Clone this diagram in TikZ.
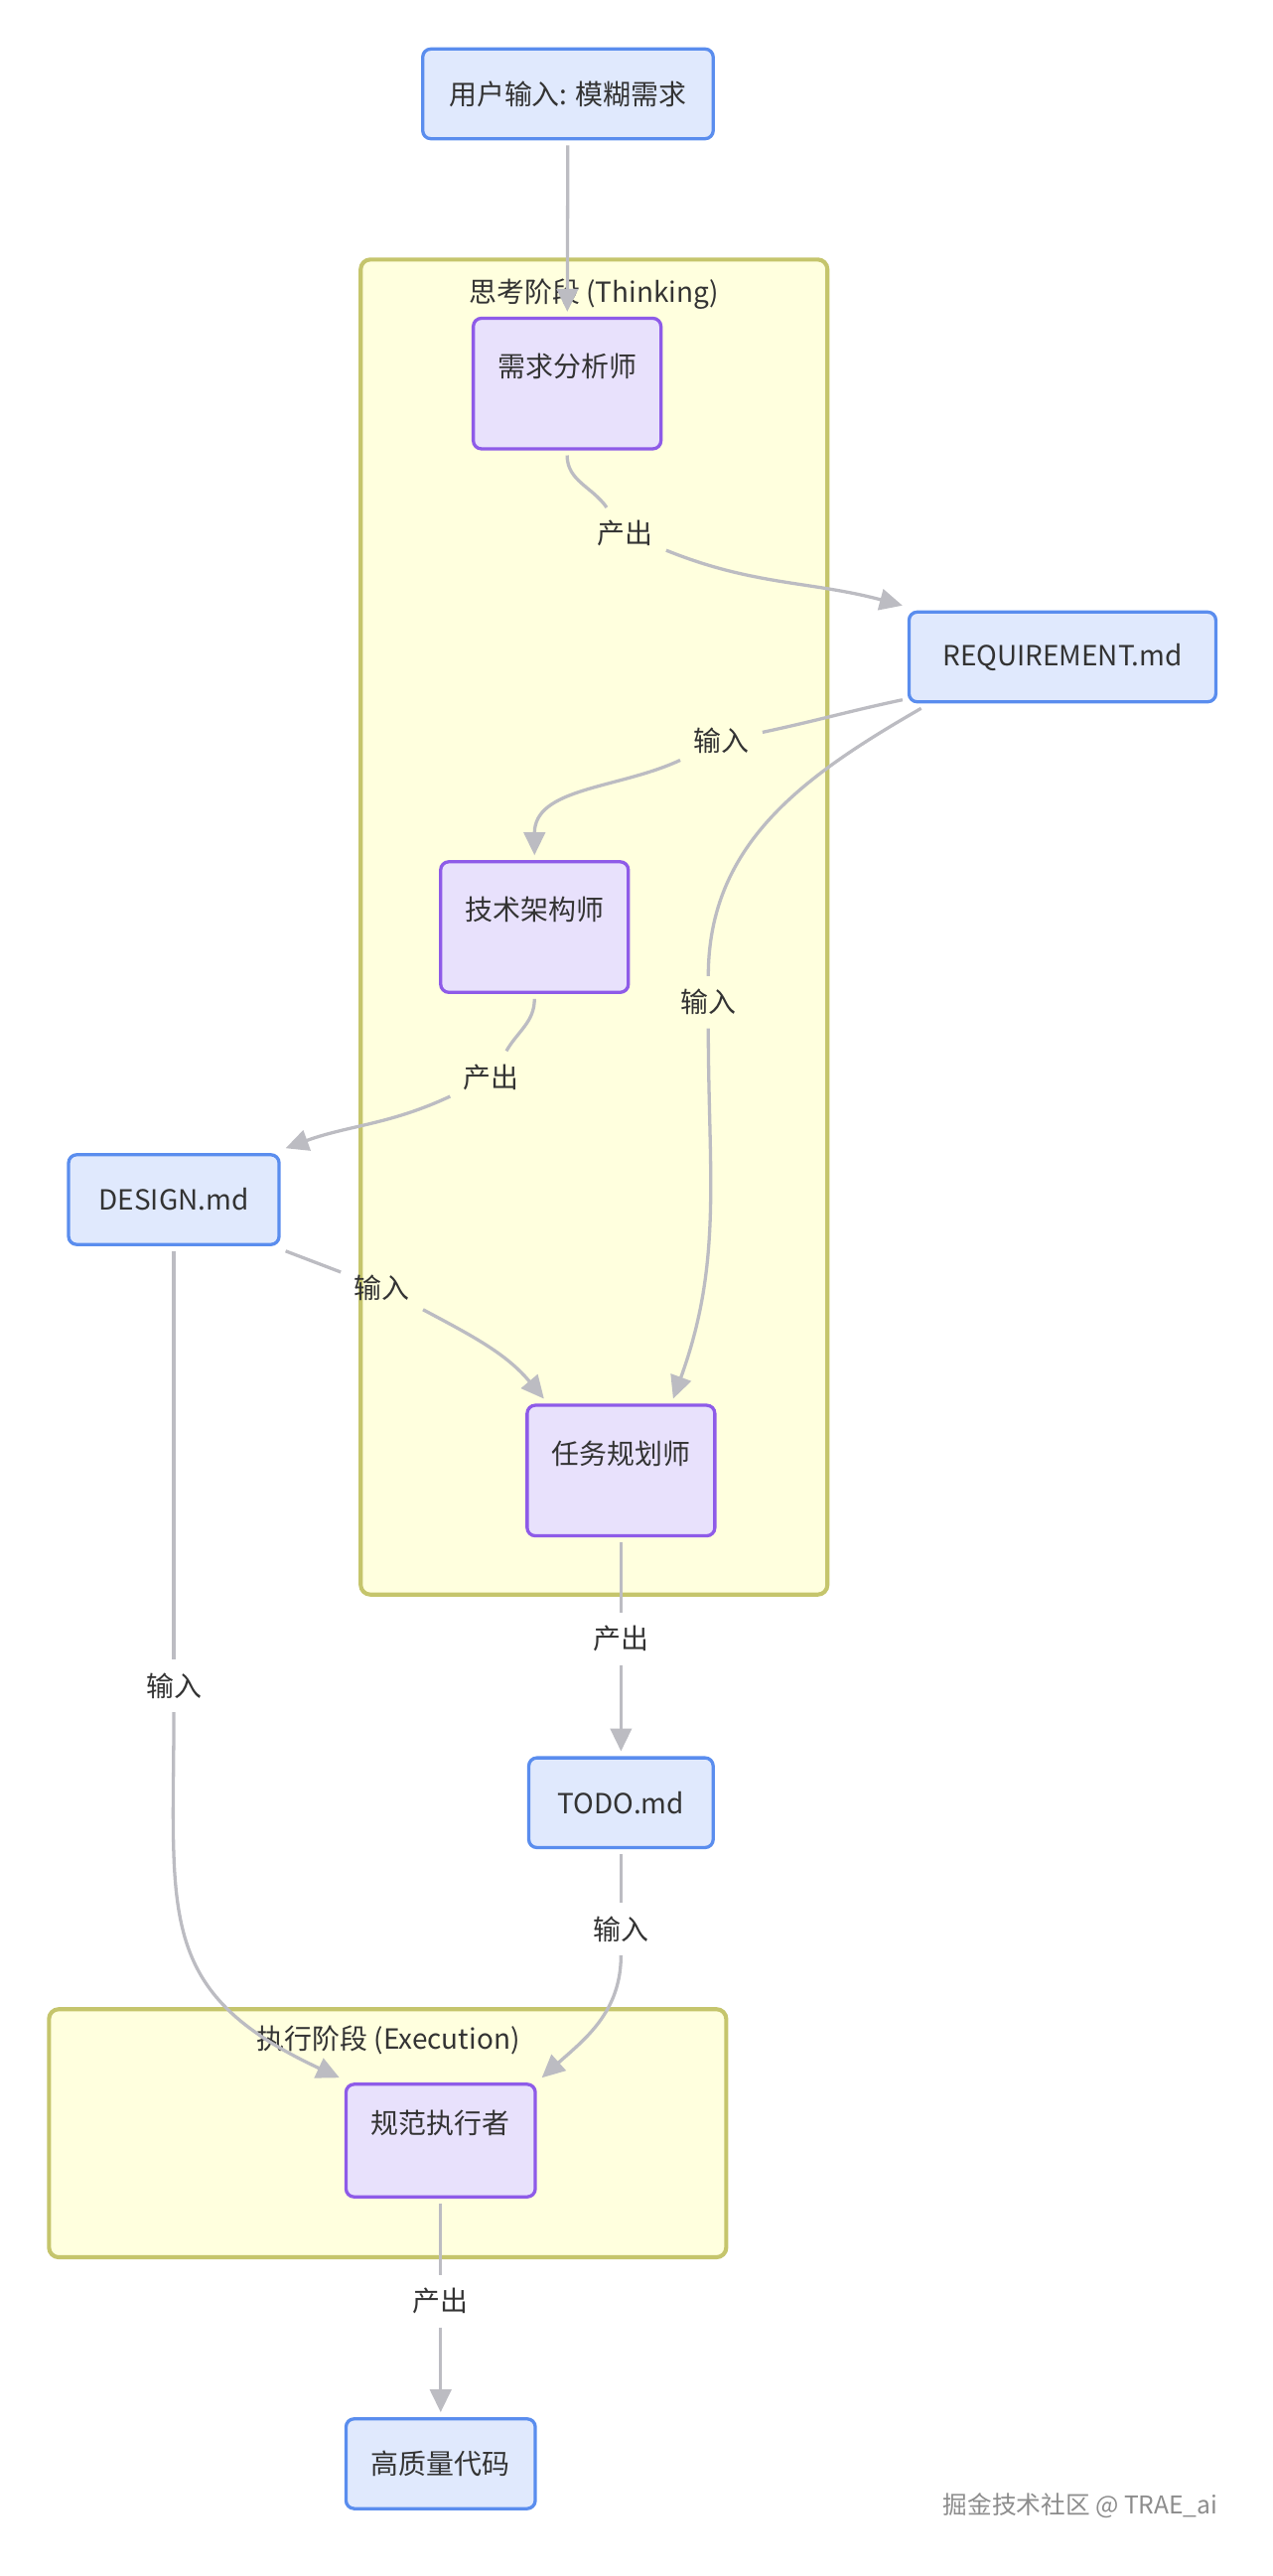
\documentclass[tikz,border=0pt]{standalone}
\usepackage{fontspec}
\setmainfont{Noto Sans CJK SC}
\usetikzlibrary{arrows.meta}
\definecolor{filebg}{HTML}{E0E9FD}
\definecolor{fileline}{HTML}{5A8DEE}
\definecolor{rolebg}{HTML}{E8E1FC}
\definecolor{roleline}{HTML}{8E5BE8}
\definecolor{phasebg}{HTML}{FFFFDE}
\definecolor{phaseline}{HTML}{C5C56C}
\definecolor{edgec}{HTML}{BCBCC2}
\definecolor{textc}{HTML}{333333}
\begin{document}
\begin{tikzpicture}[x=1pt,y=1pt,
  file/.style={draw=fileline,fill=filebg,line width=2pt,rounded corners=5pt,minimum height=55pt,inner sep=0pt,outer sep=4pt,text=textc},
  role/.style={draw=roleline,fill=rolebg,line width=2pt,rounded corners=5pt,minimum width=115pt,minimum height=80pt,inner sep=0pt,outer sep=4pt,text height=14pt,text depth=22pt,text=textc},
  phase/.style={draw=phaseline,fill=phasebg,line width=2.5pt,rounded corners=6pt},
  lbl/.style={inner sep=8pt,text=textc},
  flow/.style={draw=edgec,line width=2pt},
  tip/.style={-{Triangle[length=14pt,width=13pt]}}]
\useasboundingbox (0,0) rectangle (780,-1578.3);
\fontsize{17}{20}\selectfont

% clusters
\draw[phase] (221,-159) rectangle (507,-977);
\node[text=textc] (think) at (364,-180) {思考阶段 (Thinking)};
\draw[phase] (30,-1231) rectangle (445,-1383);
\node[text=textc] (exe) at (238,-1250) {执行阶段 (Execution)};

% boxes
\node[file,minimum width=178pt] (start) at (348,-57.5) {用户输入: 模糊需求};
\node[role] (ana) at (347.5,-235) {需求分析师};
\node[file,minimum width=188pt] (req) at (651,-402.5) {REQUIREMENT.md};
\node[role] (arch) at (327.5,-568) {技术架构师};
\node[file,minimum width=129pt] (design) at (106.5,-735) {DESIGN.md};
\node[role] (plan) at (380.5,-901) {任务规划师};
\node[file,minimum width=113pt] (todo) at (380.5,-1104.5) {TODO.md};
\node[role,minimum width=116pt,minimum height=69pt] (exec) at (270,-1311.5) {规范执行者};
\node[file,minimum width=116pt] (code) at (270,-1509.5) {高质量代码};

% edge labels
\node[lbl] (l1) at (383,-327) {产出};
\node[lbl] (l2) at (442,-454) {输入};
\node[lbl] (l3) at (434,-614) {输入};
\node[lbl] (l4) at (301,-660) {产出};
\node[lbl] (l5) at (234,-789) {输入};
\node[lbl] (l6) at (380.5,-1004) {产出};
\node[lbl] (l7) at (380.5,-1182) {输入};
\node[lbl] (l8) at (106.5,-1033) {输入};
\node[lbl] (l9) at (270,-1410) {产出};

\draw[flow,tip] (start) -- (ana);

\draw[flow] (ana.south) to[out=-90,in=125] (l1);
\draw[flow,tip] (l1) to[out=-22,in=165] (req.north west);

\draw[flow] (req.195) to[out=192,in=12] (l2);
\draw[flow,tip] (l2) to[out=205,in=90] (arch.north);

\draw[flow] (req.200) to[out=210,in=90] (l3);
\draw[flow,tip] (l3) to[out=-90,in=70] (plan.54);

\draw[flow] (arch.south) to[out=-90,in=60] (l4);
\draw[flow,tip] (l4) to[out=205,in=20] (design.north east);

\draw[flow] (design.south east) -- (l5);
\draw[flow,tip] (l5) to[out=-28,in=130] (plan.137);

\draw[flow] (plan) -- (l6);
\draw[flow,tip] (l6) -- (todo);

\draw[flow] (todo) -- (l7);
\draw[flow,tip] (l7) to[out=-90,in=42] (exec.north east);

\draw[flow] (design) -- (l8);
\draw[flow,tip] (l8) to[out=-90,in=155,looseness=1.3] (exec.north west);

\draw[flow] (exec) -- (l9);
\draw[flow,tip] (l9) -- (code);

% watermark
\node[anchor=east,text=black!45,font=\fontsize{15}{18}\selectfont] (mark) at (752,-1535) {掘金技术社区 @ TRAE\_ai};
\end{tikzpicture}
\end{document}
